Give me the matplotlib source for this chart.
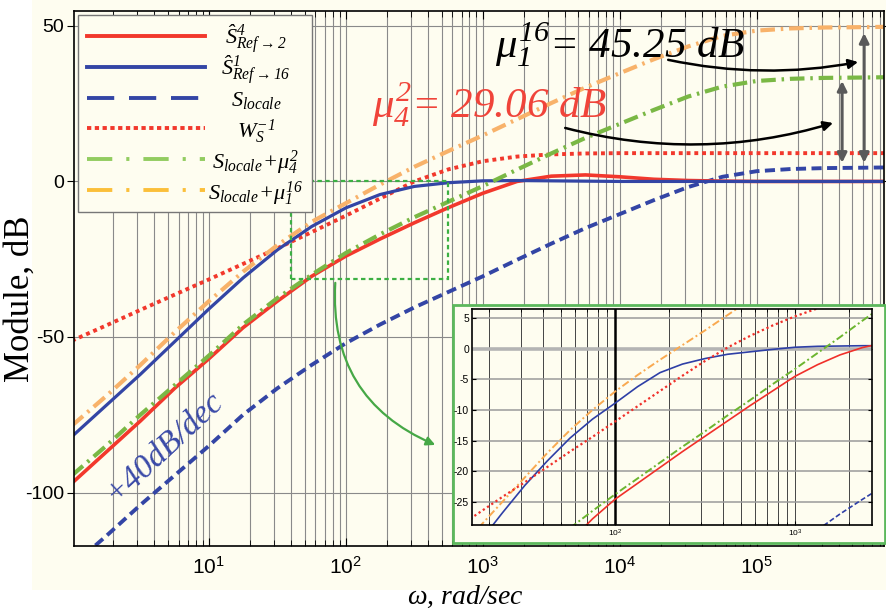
import matplotlib
matplotlib.use('Agg')
import matplotlib.pyplot as plt
from matplotlib import font_manager
from matplotlib.patches import Rectangle
from matplotlib.lines import Line2D
from matplotlib.ticker import LogLocator, FixedLocator, LogFormatterMathtext, NullFormatter


def pick_font(*names):
    """first installed family of the list"""
    for name in names:
        try:
            font_manager.findfont(name, fallback_to_default=False)
            return name
        except ValueError:
            pass
    return 'DejaVu Sans'


NARROW = pick_font('Liberation Sans Narrow', 'Liberation Sans')
SERIF = pick_font('Liberation Serif', 'DejaVu Serif')

plt.rcParams['font.family'] = [NARROW, 'DejaVu Sans']
plt.rcParams['mathtext.fontset'] = 'custom'
plt.rcParams['mathtext.rm'] = SERIF + ':italic'
plt.rcParams['mathtext.it'] = SERIF + ':italic'
plt.rcParams['mathtext.bf'] = SERIF + ':bold'
plt.rcParams['mathtext.sf'] = NARROW
plt.rcParams['axes.unicode_minus'] = False

CREAM = '#fefdf0'

# ---- main plot data (rad/sec, dB) ----
w = [1, 1.778, 3.162, 5.623, 10, 17.78, 31.62, 56.23, 100, 177.8, 316.2, 562.3,
     1e3, 1778, 3162, 5623, 1e4, 1.778e4, 3.162e4, 5.623e4,
     1e5, 1.778e5, 3.162e5, 5.623e5, 8.51e5]

s_ref2 = [-97, -87, -77, -66.5, -57, -47, -38.5, -30.5, -24, -18.5, -13.3, -8.4,
          -3.8, 0, 1.7, 2.1, 1.5, 0.7, 0.3, 0.1, 0, 0, 0, 0, 0]
s_ref16 = [-82, -72, -62, -51.5, -41, -31, -22, -14.5, -8.5, -4.2, -1.6, -0.4,
           0.2, 0.3, 0.2, 0.1, 0, 0, 0, 0, 0, 0, 0, 0, 0]
s_locale = [-123.6, -114, -104, -94.5, -85, -75, -66.5, -59, -52, -46, -40.5, -35.5,
            -30.5, -25.2, -20, -15, -10.5, -6, -1.8, 1.5, 3.3, 4.0, 4.3, 4.4, 4.5]
ws_inv = [-51.2, -46.3, -41.3, -36.4, -31.5, -26.5, -21.5, -16.3, -11, -5.5, 0, 3.9,
          6.5, 8.0, 8.7, 9.0, 9.1, 9.1, 9.1, 9.1, 9.1, 9.1, 9.1, 9.1, 9.1]
s_mu42 = [-94.5, -85, -75, -65.5, -56, -46, -37.5, -30, -23, -17, -11.5, -6.5,
          -1.5, 3.8, 9, 14, 18.5, 23, 27.3, 30.5, 32.3, 33.0, 33.3, 33.4, 33.5]
s_mu116 = [-78.5, -69, -59, -48.5, -38.5, -29, -20.5, -13, -7, -1, 4.7, 9.8,
           14.8, 20, 25.2, 30.2, 34.8, 39.3, 43.4, 46.8, 48.5, 49.2, 49.5, 49.6, 49.7]

labels = [r'$\hat{S}^{4}_{Ref\rightarrow 2}$',
          r'$\hat{S}^{1}_{Ref\rightarrow 16}$',
          r'$S_{locale}$',
          r'$W_{S}^{-1}$',
          r'$S_{locale}\!+\!\mu_{4}^{2}$',
          r'$S_{locale}\!+\!\mu_{1}^{16}$']

# ---- inset data (eighth of a decade grid) ----
w_ins = [13.34, 17.78, 23.71, 31.62, 42.17, 56.23, 74.99, 100, 133.4, 177.8,
         237.1, 316.2, 421.7, 562.3, 749.9, 1000, 1334, 1778, 2371, 3162]
ins_mu116 = [-33, -29, -25, -21, -17, -13.3, -10, -7, -4.3, -1.8, 0.6, 3, 5.5, 8, 10.5]
ins_ref16 = [-31.5, -26.8, -22.3, -18.3, -14.6, -11.5, -8.9, -6.2, -3.9, -2.5,
             -1.6, -0.9, -0.5, -0.1, 0.25, 0.4, 0.45, 0.5, 0.5]
ins_ws_inv = [-29.2, -26.7, -24.2, -21.8, -19.3, -16.8, -14.4, -11.9, -9.4, -6.9,
              -4.4, -2.0, 0.2, 2.1, 3.8, 5.3, 6.6, 7.6]
ins_mu42 = [-29.3, -26.5, -23.8, -21.2, -18.6, -16.0, -13.5, -10.9, -8.4, -5.8,
            -3.3, -0.7, 1.9, 4.6, 7.2]
ins_ref2 = [-31.5, -27.8, -24.6, -22.0, -19.4, -16.8, -14.3, -11.8, -9.3, -6.9,
            -4.5, -2.6, -1.0, 0.2, 1.0]
ins_locale = [-29.6, -27.0, -24.6, -22.3]

RED, BLUE, GREEN, ORANGE = '#f2382c', '#3345a5', '#7ab845', '#f8b26a'
DASHDOT = (0, (3.5, 1.4, 0.6, 1.4))

fig = plt.figure(figsize=(8.87, 6.12), dpi=100, facecolor='white')
fig.add_artist(Rectangle((0.036, 0.036), 0.964, 0.964, transform=fig.transFigure,
                         facecolor=CREAM, edgecolor='none', zorder=-10))

ax = fig.add_axes([74 / 887, 1 - 546 / 612, 810 / 887, 535 / 612])
ax.set_facecolor(CREAM)
ax.set_xscale('log')

ax.plot(w, s_locale, color=BLUE, lw=2.8, ls=(0, (2.6, 1.4)))
ax.plot(w, ws_inv, color=RED, lw=2.8, ls=(0, (1.0, 1.0)), dash_capstyle='butt')
ax.plot(w, s_ref2, color=RED, lw=2.6)
ax.plot(w, s_ref16, color=BLUE, lw=2.3)
ax.plot(w, s_mu42, color=GREEN, lw=3.0, ls=DASHDOT)
ax.plot(w, s_mu116, color=ORANGE, lw=3.0, ls=DASHDOT)

ax.set_xlim(10 ** 0.015, 10 ** 5.93)
ax.set_ylim(-117.2, 54.8)
ax.xaxis.set_major_locator(LogLocator(base=10, numticks=20))
ax.xaxis.set_minor_locator(LogLocator(base=10, subs=range(2, 10), numticks=20))
ax.xaxis.set_minor_formatter(NullFormatter())
ax.set_yticks([-100, -50, 0, 50])
ax.set_axisbelow(True)
ax.grid(True, which='both', axis='x', color='#8a8a8a', lw=0.8)
ax.grid(True, which='major', axis='y', color='#8a8a8a', lw=0.8)
ax.tick_params(axis='x', which='both', direction='in', top=True, bottom=True, pad=7)
ax.tick_params(axis='x', which='major', length=6, labelsize=15)
ax.tick_params(axis='x', which='minor', length=4)
ax.tick_params(axis='y', direction='out', right=True, length=5, pad=2, labelsize=14)
for sp in ax.spines.values():
    sp.set_linewidth(1.2)

ax.set_ylabel('Module, dB', family=SERIF, fontsize=25)
ax.yaxis.set_label_coords(-0.046, 0.462)
ax.set_xlabel(r'$\omega$, rad/sec', family=SERIF, style='italic', fontsize=20)
ax.xaxis.set_label_coords(0.483, -0.07)

# legend drawn by hand: lines left, labels centred
ax.add_patch(Rectangle((0.0049, 0.6243), 0.289, 0.3682, transform=ax.transAxes,
                       facecolor=CREAM, edgecolor='#777777', lw=1.0, zorder=5))
leg_styles = [dict(color=RED, lw=2.8, ls='-'),
              dict(color=BLUE, lw=2.8, ls='-'),
              dict(color=BLUE, lw=2.8, ls=(0, (7, 3.8))),
              dict(color=RED, lw=2.8, ls=(0, (1.1, 0.9))),
              dict(color='#92cc60', lw=2.8, ls=(0, (6.5, 3.6, 0.8, 3.6))),
              dict(color='#fbbf3a', lw=2.8, ls=(0, (6.5, 3.6, 0.8, 3.6)))]
for i, (lab, st) in enumerate(zip(labels, leg_styles)):
    y = 0.9533 - i * 0.0576
    ax.add_line(Line2D([0.016, 0.1617], [y, y], transform=ax.transAxes,
                       dash_capstyle='butt', zorder=6, **st))
    ax.text(0.2247, y - 0.006, lab, transform=ax.transAxes, ha='center', va='center',
            fontsize=16, zorder=6)

# annotations
ax.text(10 ** 3.09, 39.7, r'$\mu_{1}^{16}$= 45.25 dB', family=SERIF, style='italic',
        fontsize=31, color='black', va='baseline')
ax.text(10 ** 2.193, 20.7, r'$\mu_{4}^{2}$= 29.06 dB', family=SERIF, style='italic',
        fontsize=31, color='#f0443a', va='baseline')
ax.annotate('', xy=(10 ** 5.741, 38.4), xytext=(10 ** 4.354, 39.1),
            arrowprops=dict(arrowstyle='-|>', color='black', lw=1.8, mutation_scale=14,
                            connectionstyle='arc3,rad=0.1', shrinkA=0, shrinkB=0))
ax.annotate('', xy=(10 ** 5.558, 18.8), xytext=(10 ** 3.602, 17.2),
            arrowprops=dict(arrowstyle='-|>', color='black', lw=1.8, mutation_scale=14,
                            connectionstyle='arc3,rad=0.14', shrinkA=0, shrinkB=0))
for lx, top in [(5.624, 32.3), (5.785, 47.7)]:
    ax.annotate('', xy=(10 ** lx, top), xytext=(10 ** lx, 6.0),
                arrowprops=dict(arrowstyle='<|-|>', color='#5a5a5a', lw=2.2,
                                mutation_scale=14, shrinkA=0, shrinkB=0))

zoom_x = (10 ** 1.6, 10 ** 2.748)
zoom_y = (-31.4, 0)
ax.add_patch(Rectangle((zoom_x[0], zoom_y[0]), zoom_x[1] - zoom_x[0], zoom_y[1] - zoom_y[0],
                       fill=False, edgecolor='#3cb043', lw=1.6, ls=(0, (2, 1.5)), zorder=4))
ax.annotate('', xy=(10 ** 2.653, -84.7), xytext=(10 ** 1.923, -32.6),
            arrowprops=dict(arrowstyle='-|>', color='#46a846', lw=1.6, mutation_scale=13,
                            connectionstyle='arc3,rad=0.35', shrinkA=0, shrinkB=0))
ax.text(10 ** 0.67, -85.5, '+40dB/dec', family=SERIF, style='italic', fontsize=24,
        color='#3a4aa8', rotation=43, ha='center', va='center')

# ---- inset ----
fig.add_artist(Rectangle((453 / 887, 1 - 543 / 612), 432 / 887, 238 / 612,
                         transform=fig.transFigure, facecolor=CREAM,
                         edgecolor='#5cb85c', lw=2.0, zorder=2))
axin = fig.add_axes([471.7 / 887, 1 - 525 / 612, 400 / 887, 216 / 612], zorder=3)
axin.set_facecolor(CREAM)
axin.set_xscale('log')
axin.axhline(0, color='#b4b4b4', lw=2.6, zorder=1)
axin.axvline(100, color='black', lw=1.8, zorder=1)
axin.plot(w_ins[:15], ins_mu116, color='#f9a950', lw=1.4, ls=(0, (4, 1.5, 1, 1.5)))
axin.plot(w_ins[1:], ins_ref16, color='#2e3fa6', lw=1.2)
axin.plot(w_ins[:18], ins_ws_inv, color='#f0302a', lw=1.6, ls=(0, (1, 1.3)))
axin.plot(w_ins[5:], ins_mu42, color='#6cb52f', lw=1.4, ls=(0, (4, 1.5, 1, 1.5)))
axin.plot(w_ins[5:], ins_ref2, color='#f0302a', lw=1.2)
axin.plot(w_ins[16:], ins_locale, color='#2e3fa6', lw=1.2, ls=(0, (3, 1.5)))
axin.set_xlim(10 ** 1.204, 10 ** 3.426)
axin.set_ylim(-28.8, 6.5)
axin.xaxis.set_major_locator(FixedLocator([100, 1000]))
axin.xaxis.set_major_formatter(LogFormatterMathtext())
axin.xaxis.set_minor_locator(LogLocator(base=10, subs=range(2, 10), numticks=20))
axin.xaxis.set_minor_formatter(NullFormatter())
axin.set_yticks(range(-25, 6, 5))
axin.set_axisbelow(True)
axin.grid(True, which='both', axis='x', color='#444444', lw=0.7)
axin.grid(True, which='major', axis='y', color='#9a9a9a', lw=1.1)
axin.tick_params(which='both', direction='in', top=True, right=True)
axin.tick_params(which='major', length=3, labelsize=7.5, pad=2)
axin.tick_params(which='minor', length=2)
axin.tick_params(axis='x', labelsize=6)
for sp in axin.spines.values():
    sp.set_linewidth(1.2)

fig.savefig('out.png', dpi=100, facecolor=fig.get_facecolor())
